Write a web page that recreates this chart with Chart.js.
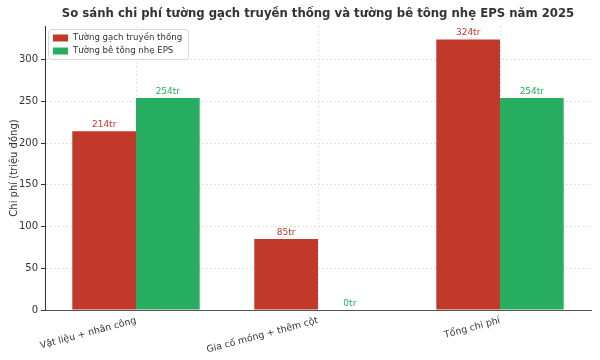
<!DOCTYPE html>
<html>
<head>
<meta charset="utf-8">
<script src="https://cdn.jsdelivr.net/npm/chart.js@4.4.1/dist/chart.umd.min.js"></script>
<style>
  html, body { margin: 0; padding: 0; background: #fff; }
  #wrap { width: 600px; height: 360px; }
</style>
</head>
<body>
<div id="wrap"><canvas id="costChart" width="600" height="360"></canvas></div>
<script>
// dữ liệu
const categories = ['Vật liệu + nhân công', 'Gia cố móng + thêm cột', 'Tổng chi phí'];
const brickCost = [214, 85, 324];   // tường gạch truyền thống
const epsCost = [254, 0, 254];      // tường bê tông nhẹ EPS
const yTicks = [0, 50, 100, 150, 200, 250, 300];
const chartTitle = 'So sánh chi phí tường gạch truyền thống và tường bê tông nhẹ EPS năm 2025';

const RED = '#c0392b';
const GREEN = '#27ae60';
const FONT = "'DejaVu Sans', sans-serif";

// tiêu đề (căn giữa vùng vẽ), nhãn giá trị trên cột + chú thích trong khung
const valueLabels = {
  id: 'valueLabels',
  afterDatasetsDraw(chart) {
    const ctx = chart.ctx;
    ctx.save();
    ctx.font = '9px ' + FONT;
    ctx.textAlign = 'center';
    ctx.textBaseline = 'bottom';
    chart.data.datasets.forEach((ds, i) => {
      const meta = chart.getDatasetMeta(i);
      meta.data.forEach((bar, j) => {
        ctx.fillStyle = ds.backgroundColor;
        ctx.fillText(ds.data[j] + 'tr', bar.x, bar.y - 2);
      });
    });
    ctx.restore();
  },
  afterDraw(chart) {
    const ctx = chart.ctx;
    const a = chart.chartArea;
    ctx.save();
    // tiêu đề
    ctx.font = 'bold 11.7px ' + FONT;
    ctx.fillStyle = '#333';
    ctx.textAlign = 'center';
    ctx.textBaseline = 'middle';
    ctx.fillText(chartTitle, (a.left + a.right) / 2, 14);

    // chú thích
    const x = a.left + 3, y = a.top + 3, w = 140, h = 30;
    ctx.fillStyle = 'rgba(255,255,255,0.8)';
    ctx.strokeStyle = '#d6d6d6';
    ctx.lineWidth = 1;
    ctx.beginPath();
    ctx.roundRect(x + 0.5, y + 0.5, w, h, 3);
    ctx.fill();
    ctx.stroke();
    ctx.font = '8.6px ' + FONT;
    ctx.textAlign = 'left';
    chart.data.datasets.forEach((ds, i) => {
      const ry = y + 9 + i * 13;
      ctx.fillStyle = ds.backgroundColor;
      ctx.fillRect(x + 5, ry - 3.5, 15, 7);
      ctx.fillStyle = '#333';
      ctx.fillText(ds.label, x + 25, ry);
    });
    ctx.restore();
  }
};

const data = {
  labels: categories,
  datasets: [
    {
      label: 'Tường gạch truyền thống',
      data: brickCost,
      backgroundColor: RED,
      categoryPercentage: 0.7,
      barPercentage: 1.0
    },
    {
      label: 'Tường bê tông nhẹ EPS',
      data: epsCost,
      backgroundColor: GREEN,
      categoryPercentage: 0.7,
      barPercentage: 1.0
    }
  ]
};

const config = {
  type: 'bar',
  data: data,
  plugins: [valueLabels],
  options: {
    responsive: false,
    animation: false,
    layout: { padding: { left: 8, right: 9, top: 26, bottom: 0 } },
    plugins: {
      legend: { display: false },
      tooltip: { enabled: false },
      title: { display: false }
    },
    scales: {
      x: {
        grid: {
          offset: false,
          color: '#e6e6e6',
          drawTicks: false
        },
        border: { display: true, color: '#555', width: 1, dash: [2, 2] },
        ticks: {
          color: '#333',
          font: { family: FONT, size: 9.4 },
          minRotation: 15,
          maxRotation: 15,
          padding: 5
        },
        afterFit(scale) { scale.height = 50; }
      },
      y: {
        min: 0,
        max: 340.2,
        afterBuildTicks(scale) { scale.ticks = yTicks.map(v => ({ value: v })); },
        grid: {
          color: '#e0e0e0',
          tickColor: '#333',
          tickLength: 4
        },
        border: { display: true, color: '#333', width: 1, dash: [2, 2] },
        ticks: {
          color: '#333',
          font: { family: FONT, size: 10 },
          padding: 3
        },
        title: {
          display: true,
          text: 'Chi phí (triệu đồng)',
          color: '#333',
          font: { family: FONT, size: 10 },
          padding: { top: 0, bottom: 2 }
        },
        afterFit(scale) { scale.width = 37; }
      }
    }
  }
};

new Chart(document.getElementById('costChart'), config);
</script>
</body>
</html>
